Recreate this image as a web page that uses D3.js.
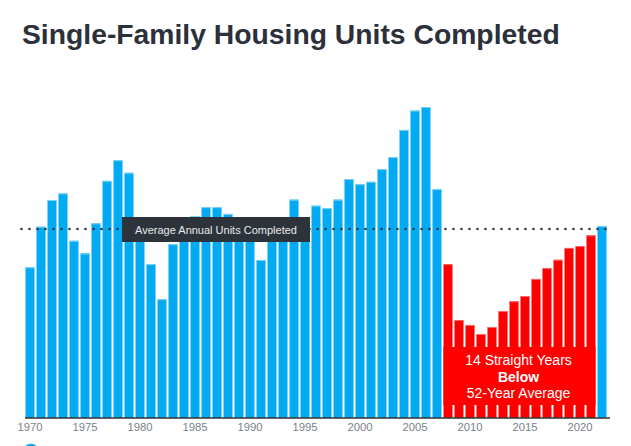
<!DOCTYPE html>
<html>
<head>
<meta charset="utf-8">
<script src="https://cdn.jsdelivr.net/npm/d3@7"></script>
<style>
  body { margin: 0; background: #fff; }
  svg { display: block; font-family: "Liberation Sans", Arial, sans-serif; }
</style>
</head>
<body>
<div class="chart"></div>
<script>
// years shown on the chart
const years = d3.range(1970, 2023);

// single-family units completed, thousands
const units = [
  802, 1018, 1160, 1195, 943, 876, 1036, 1262, 1372, 1305,
  957, 819, 632, 925, 1025, 1075, 1122, 1122, 1086, 1026,
  966, 841, 964, 1039, 1162, 1066, 1130, 1117, 1162, 1272,
  1244, 1257, 1325, 1388, 1533, 1636, 1655, 1218, 819, 521,
  495, 447, 484, 569, 621, 649, 740, 798, 842, 905,
  915, 972, 1022
];

const tickYears = [1970, 1975, 1980, 1985, 1990, 1995, 2000, 2005, 2010, 2015, 2020];
const average = 1006;
const belowYears = [2008, 2021]; // first and last red year
const noteLines = ["14 Straight Years", "Below", "52-Year Average"];

const width = 631, height = 446;
const baseY = 418;

const svg = d3.select(".chart").append("svg")
    .attr("width", width)
    .attr("height", height);

// title
svg.append("text")
    .attr("x", 22)
    .attr("y", 44)
    .attr("fill", "#2b303a")
    .style("font-size", "28.3px")
    .style("font-weight", "bold")
    .text("Single-Family Housing Units Completed");

const x = d3.scaleBand()
    .domain(years)
    .range([24.5, 607.5])
    .paddingInner(0.18)
    .paddingOuter(0.09);

const y = d3.scaleLinear()
    .domain([0, 1800])
    .range([baseY, baseY - 1800 * 0.18792]);

const isBelow = yr => yr >= belowYears[0] && yr <= belowYears[1];

// bars
svg.append("g")
    .selectAll("rect")
    .data(years)
    .join("rect")
    .attr("x", d => x(d))
    .attr("width", x.bandwidth())
    .attr("y", (d, i) => y(units[i]))
    .attr("height", (d, i) => baseY - y(units[i]))
    .attr("fill", d => isBelow(d) ? "#ff0000" : "#02aaf3");

// light top edge on bars
svg.append("g")
    .selectAll("line")
    .data(years)
    .join("line")
    .attr("x1", d => x(d))
    .attr("x2", d => x(d) + x.bandwidth())
    .attr("y1", (d, i) => y(units[i]) + 0.5)
    .attr("y2", (d, i) => y(units[i]) + 0.5)
    .attr("stroke", d => isBelow(d) ? "#ff6b6b" : "#7fd3f7")
    .attr("stroke-width", 1);

// red note box
const boxX0 = x(belowYears[0]);
const boxX1 = x(belowYears[1]) + x.bandwidth();
svg.append("rect")
    .attr("x", boxX0)
    .attr("width", boxX1 - boxX0)
    .attr("y", 347)
    .attr("height", 58)
    .attr("fill", "#ff0000");

svg.append("g")
    .selectAll("text")
    .data(noteLines)
    .join("text")
    .attr("x", (boxX0 + boxX1) / 2 - 1)
    .attr("y", (d, i) => 365 + i * 16.5)
    .attr("text-anchor", "middle")
    .attr("fill", "#fff")
    .style("font-size", "14px")
    .style("font-weight", (d, i) => i === 1 ? "bold" : "normal")
    .text(d => d);

// baseline
svg.append("line")
    .attr("x1", 25)
    .attr("x2", 610)
    .attr("y1", baseY)
    .attr("y2", baseY)
    .attr("stroke", "#333")
    .attr("stroke-width", 1.5);

// x axis labels
const xAxis = d3.axisBottom(x)
    .tickValues(tickYears)
    .tickSize(0)
    .tickPadding(5);

svg.append("g")
    .attr("transform", `translate(0,${baseY})`)
    .call(xAxis)
    .call(g => g.select(".domain").remove())
    .call(g => g.selectAll("text")
        .attr("fill", "#7a7f87")
        .style("font-size", "11.3px")
        .style("font-family", "'Liberation Sans', Arial, sans-serif"));

// average dotted line
svg.append("line")
    .attr("x1", 21.5)
    .attr("x2", 608)
    .attr("y1", y(average))
    .attr("y2", y(average))
    .attr("stroke", "#2f3540")
    .attr("stroke-width", 2.6)
    .attr("stroke-linecap", "round")
    .attr("stroke-dasharray", "0 8");

// average label
svg.append("rect")
    .attr("x", 122)
    .attr("y", 217)
    .attr("width", 188)
    .attr("height", 25)
    .attr("fill", "#2d333b");

svg.append("text")
    .attr("x", 216)
    .attr("y", 233.5)
    .attr("text-anchor", "middle")
    .attr("fill", "#e8eaec")
    .style("font-size", "11px")
    .text("Average Annual Units Completed");

// logo cut off at bottom
svg.append("circle")
    .attr("cx", 31)
    .attr("cy", 452)
    .attr("r", 7)
    .attr("fill", "none")
    .attr("stroke", "#18a4ea")
    .attr("stroke-width", 2.5);
</script>
</body>
</html>
